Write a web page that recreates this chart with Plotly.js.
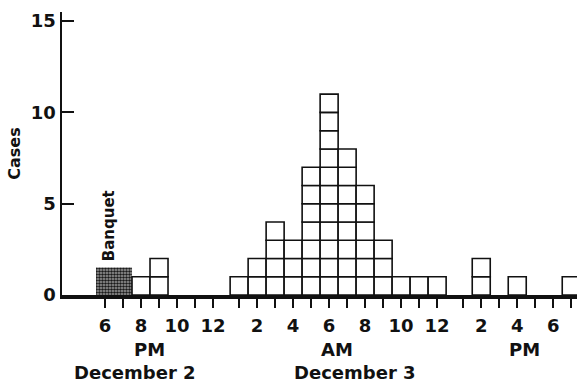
<!DOCTYPE html>
<html>
<head>
<meta charset="utf-8">
<script src="https://cdn.plot.ly/plotly-3.0.1.min.js"></script>
<style>html,body{margin:0;padding:0;background:#fff;}#chart{width:577px;height:385px;}</style>
</head>
<body>
<div id="chart"></div>
<script>
// Hours counted from midnight at the start of December 2 (20 = 8 PM Dec 2, 30 = 6 AM Dec 3)
const caseHours  = [20, 21, 25, 26, 27, 28, 29, 30, 31, 32, 33, 34, 35, 36, 38, 40, 43];
const caseCounts = [ 1,  2,  1,  2,  4,  3,  7, 11,  8,  6,  3,  1,  1,  1,  2,  1,  1];

// Banquet period (hours from midnight Dec 2) and the height of its shaded block
const banquetStart = 17.5;
const banquetEnd = 19.5;
const banquetHeight = 1.5;

// Hourly ticks and the labels shown on the even hours
const firstTickHour = 18;
const lastTickHour = 43;
const labelHours = [18, 20, 22, 24, 26, 28, 30, 32, 34, 36, 38, 40, 42];
const labelTexts = ["6", "8", "10", "12", "2", "4", "6", "8", "10", "12", "2", "4", "6"];

const yTicks = [0, 5, 10, 15];

// The original axis leaves a small extra gap after each 12 o'clock
const GAP = 0.45;
function pos(h) { return h + (h > 24 ? GAP : 0) + (h > 36 ? GAP : 0); }

// one unit square per case, stacked
const bx = [], bbase = [], by = [];
caseHours.forEach((h, i) => {
  for (let k = 0; k < caseCounts[i]; k++) { bx.push(pos(h)); bbase.push(k); by.push(1); }
});

const tickvals = [], ticktext = [];
for (let h = firstTickHour; h <= lastTickHour; h++) {
  tickvals.push(pos(h));
  const j = labelHours.indexOf(h);
  ticktext.push(j >= 0 ? labelTexts[j] : "");
}

const F = 'DejaVu Sans, sans-serif';
const C = '#111';

const traces = [
  {
    type: 'bar',
    x: [pos((banquetStart + banquetEnd) / 2)],
    y: [banquetHeight],
    width: [banquetEnd - banquetStart],
    marker: {
      color: '#9a9a9a',
      line: {width: 0},
      pattern: {shape: '.', fgcolor: '#1a1a1a', bgcolor: '#a0a0a0', size: 3, solidity: 0.55}
    },
    hoverinfo: 'skip'
  },
  {
    type: 'bar',
    x: bx, base: bbase, y: by,
    width: 1,
    marker: {color: '#ffffff', line: {color: C, width: 1.6}},
    hoverinfo: 'skip'
  }
];

const layout = {
  width: 577, height: 385,
  margin: {l: 62, r: 0, t: 12, b: 90},
  paper_bgcolor: '#fff', plot_bgcolor: '#fff',
  showlegend: false,
  barmode: 'overlay',
  font: {family: F, size: 18, color: C, weight: 'bold'},
  xaxis: {
    range: [15.61, 44.22],
    showgrid: false, zeroline: false,
    showline: true, linecolor: C, linewidth: 4,
    ticks: 'outside', ticklen: 9, tickwidth: 2, tickcolor: C,
    tickmode: 'array', tickvals: tickvals, ticktext: ticktext,
    tickfont: {family: F, size: 18, color: C, weight: 'bold'},
    ticklabelstandoff: 2,
    fixedrange: true
  },
  yaxis: {
    range: [0, 15.5],
    showgrid: false, zeroline: false,
    showline: true, linecolor: C, linewidth: 2.5,
    ticks: 'inside', ticklen: 12, tickwidth: 2, tickcolor: C,
    tickmode: 'array', tickvals: yTicks,
    tickfont: {family: F, size: 18, color: C, weight: 'bold'},
    title: {text: 'Cases', font: {family: F, size: 16, color: C, weight: 'bold'}, standoff: 6},
    fixedrange: true
  },
  annotations: [
    {text: 'Banquet', xref: 'x', yref: 'y', x: 18.2, y: 3.8, textangle: -90, showarrow: false,
     font: {family: F, size: 15, color: C, weight: 'bold'}, xanchor: 'center', yanchor: 'middle'},
    {text: 'PM', xref: 'paper', yref: 'paper', x: 0.169, y: -0.191, showarrow: false, xanchor: 'center', yanchor: 'middle',
     font: {family: F, size: 18, color: C, weight: 'bold'}},
    {text: 'AM', xref: 'paper', yref: 'paper', x: 0.534, y: -0.191, showarrow: false, xanchor: 'center', yanchor: 'middle',
     font: {family: F, size: 18, color: C, weight: 'bold'}},
    {text: 'PM', xref: 'paper', yref: 'paper', x: 0.899, y: -0.191, showarrow: false, xanchor: 'center', yanchor: 'middle',
     font: {family: F, size: 18, color: C, weight: 'bold'}},
    {text: 'December 2', xref: 'paper', yref: 'paper', x: 0.141, y: -0.2756, showarrow: false, xanchor: 'center', yanchor: 'middle',
     font: {family: F, size: 18, color: C, weight: 'bold'}},
    {text: 'December 3', xref: 'paper', yref: 'paper', x: 0.568, y: -0.2756, showarrow: false, xanchor: 'center', yanchor: 'middle',
     font: {family: F, size: 18, color: C, weight: 'bold'}}
  ]
};

Plotly.newPlot('chart', traces, layout, {displayModeBar: false, staticPlot: true});
</script>
</body>
</html>
